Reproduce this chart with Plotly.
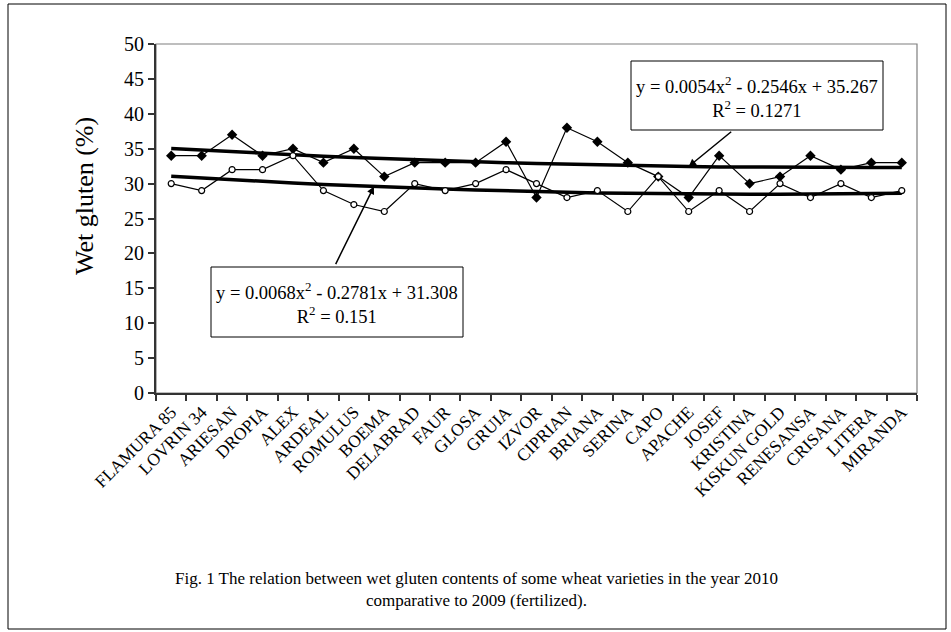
import numpy as np
import plotly.graph_objects as go

varieties = ["FLAMURA 85", "LOVRIN 34", "ARIESAN", "DROPIA", "ALEX", "ARDEAL", "ROMULUS",
             "BOEMA", "DELABRAD", "FAUR", "GLOSA", "GRUIA", "IZVOR", "CIPRIAN", "BRIANA",
             "SERINA", "CAPO", "APACHE", "JOSEF", "KRISTINA", "KISKUN GOLD", "RENESANSA",
             "CRISANA", "LITERA", "MIRANDA"]
gluten_2010 = [34, 34, 37, 34, 35, 33, 35, 31, 33, 33, 33, 36, 28, 38, 36, 33, 31, 28,
               34, 30, 31, 34, 32, 33, 33]
gluten_2009 = [30, 29, 32, 32, 34, 29, 27, 26, 30, 29, 30, 32, 30, 28, 29, 26, 31, 26,
               29, 26, 30, 28, 30, 28, 29]
y_ticks = [0, 5, 10, 15, 20, 25, 30, 35, 40, 45, 50]

eq_upper = "y = 0.0054x<sup>2</sup> - 0.2546x + 35.267<br>R<sup>2</sup> = 0.1271"
eq_lower = "y = 0.0068x<sup>2</sup> - 0.2781x + 31.308<br>R<sup>2</sup> = 0.151"
caption = ("Fig. 1 The relation between wet gluten contents of some wheat varieties in the year 2010"
           "<br>comparative to 2009 (fertilized).")
y_title = "Wet gluten (%)"

FONT = "Liberation Serif"

# plot area in pixels: x 156..917, y 44..393
PL, PR, PT, PB = 156, 917, 44, 393
W, H = 951, 632


def px(x):
    return (x - PL) / (PR - PL)


def py(y):
    return (PB - y) / (PB - PT)


xi = np.arange(1, len(varieties) + 1)
coef_2010 = np.polyfit(xi, gluten_2010, 2)
coef_2009 = np.polyfit(xi, gluten_2009, 2)
trend_2010 = np.polyval(coef_2010, xi)
trend_2009 = np.polyval(coef_2009, xi)

fig = go.Figure()
fig.add_trace(go.Scatter(x=varieties, y=trend_2010, mode="lines",
                         line=dict(color="black", width=3.5), showlegend=False,
                         hoverinfo="skip"))
fig.add_trace(go.Scatter(x=varieties, y=trend_2009, mode="lines",
                         line=dict(color="black", width=3.5), showlegend=False,
                         hoverinfo="skip"))
fig.add_trace(go.Scatter(x=varieties, y=gluten_2010, mode="lines+markers",
                         line=dict(color="black", width=1.2),
                         marker=dict(symbol="diamond", size=8, color="black"),
                         showlegend=False))
fig.add_trace(go.Scatter(x=varieties, y=gluten_2009, mode="lines+markers",
                         line=dict(color="black", width=1.2),
                         marker=dict(symbol="circle", size=6, color="white",
                                     line=dict(color="black", width=1.2)),
                         showlegend=False))

# plot area border
fig.add_shape(type="rect", xref="paper", yref="paper", x0=0, x1=1, y0=0, y1=1,
              line=dict(color="#7f7f7f", width=1.2), layer="below")
# outer frame
fig.add_shape(type="rect", xref="paper", yref="paper",
              x0=px(8), x1=px(946), y0=py(629), y1=py(4),
              line=dict(color="black", width=1))
# equation boxes
fig.add_shape(type="rect", xref="paper", yref="paper",
              x0=px(631), x1=px(883), y0=py(130), y1=py(61),
              line=dict(color="black", width=1), fillcolor="white")
fig.add_shape(type="rect", xref="paper", yref="paper",
              x0=px(211), x1=px(463), y0=py(337), y1=py(267),
              line=dict(color="black", width=1), fillcolor="white")

fig.add_annotation(text=eq_upper, xref="paper", yref="paper",
                   x=px(757), y=py(97), xanchor="center", yanchor="middle",
                   showarrow=False, align="center",
                   font=dict(family=FONT, size=18.5, color="black"))
fig.add_annotation(text=eq_lower, xref="paper", yref="paper",
                   x=px(337), y=py(303), xanchor="center", yanchor="middle",
                   showarrow=False, align="center",
                   font=dict(family=FONT, size=18.5, color="black"))

# arrows pointing to trendlines
fig.add_annotation(x=17, y=float(trend_2010[17]), xref="x", yref="y", text="",
                   showarrow=True, arrowhead=2, arrowsize=1, arrowwidth=1.5,
                   arrowcolor="black", ax=44, ay=-36, standoff=0)
fig.add_annotation(x=6.66, y=float(np.polyval(coef_2009, 7.66)),
                   xref="x", yref="y", text="",
                   showarrow=True, arrowhead=2, arrowsize=1, arrowwidth=1.5,
                   arrowcolor="black", ax=-39, ay=79, standoff=0)

# y axis title
fig.add_annotation(text=y_title, xref="paper", yref="paper",
                   x=px(84), y=py(196), xanchor="center", yanchor="middle",
                   textangle=-90, showarrow=False,
                   font=dict(family=FONT, size=26, color="black"))

# caption
fig.add_annotation(text=caption, xref="paper", yref="paper",
                   x=px(476), y=py(589), xanchor="center", yanchor="middle",
                   showarrow=False, align="center",
                   font=dict(family=FONT, size=17, color="black"))

fig.update_layout(
    width=W, height=H,
    margin=dict(l=PL, r=W - PR, t=PT, b=H - PB),
    paper_bgcolor="white", plot_bgcolor="white",
    font=dict(family=FONT, color="black"),
    xaxis=dict(type="category", range=[-0.5, 24.5], tickson="boundaries",
               ticks="outside", ticklen=6, tickcolor="#333", tickwidth=1.5,
               showline=True, linecolor="#333", linewidth=2,
               tickangle=-45, tickfont=dict(family=FONT, size=17.5, color="black"),
               showgrid=False, zeroline=False),
    yaxis=dict(range=[0, 50], tickvals=y_ticks, ticks="outside", ticklen=6,
               tickcolor="#333", tickwidth=1.5, showline=True, linecolor="#333",
               linewidth=2, tickfont=dict(family=FONT, size=20, color="black"),
               showgrid=False, zeroline=False),
)

fig.write_html("out.html")
